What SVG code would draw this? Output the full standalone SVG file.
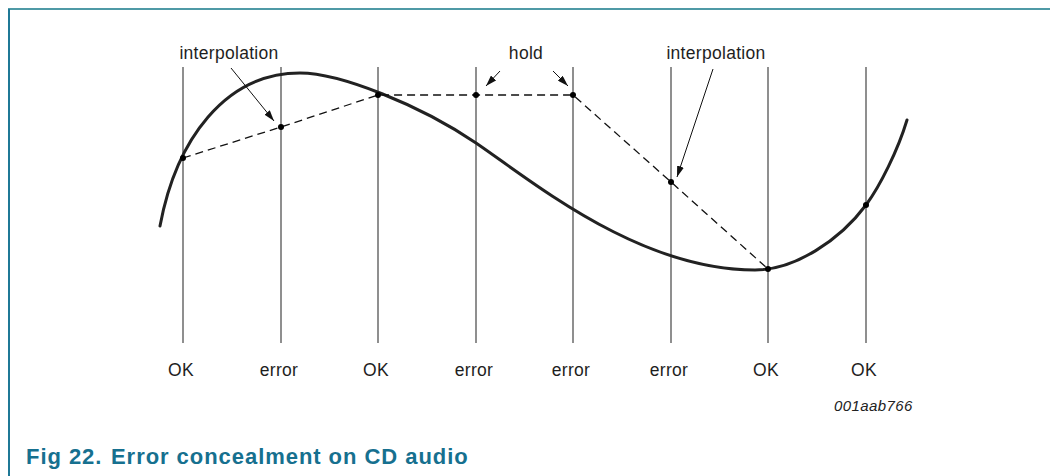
<svg xmlns="http://www.w3.org/2000/svg" width="1050" height="476" viewBox="0 0 1050 476">
<defs>
<marker id="ah" viewBox="0 0 11 7" refX="11" refY="3.5" markerWidth="11" markerHeight="7" markerUnits="userSpaceOnUse" orient="auto">
<path d="M0,0 L11,3.5 L0,7 Z" fill="#111"/>
</marker>
</defs>
<style>
.lbl{font-family:"Liberation Sans",Arial,sans-serif;font-size:17.5px;letter-spacing:0.3px;fill:#1e1e1e;text-anchor:middle}
.grid{stroke:#333;stroke-width:1.1;fill:none}
.dash{stroke:#111;stroke-width:1.3;stroke-dasharray:8 5;fill:none}
.curve{stroke:#222;stroke-width:3;fill:none;stroke-linecap:round}
.dot{fill:#000}
.ptr{stroke:#111;stroke-width:1;fill:none;marker-end:url(#ah)}
.title{font-family:"Liberation Sans",Arial,sans-serif;font-weight:bold;font-size:22px;letter-spacing:0.95px;fill:#16708f}
</style>
<rect width="1050" height="476" fill="#fff"/>
<g id="frame">
<line x1="8" y1="9" x2="1050" y2="9" stroke="#4f9aa6" stroke-width="2"/>
<line x1="9" y1="9" x2="9" y2="476" stroke="#1f7896" stroke-width="2"/>
</g>
<g id="grid">
<line class="grid" x1="183" y1="67" x2="183" y2="343"/>
<line class="grid" x1="281" y1="67" x2="281" y2="343"/>
<line class="grid" x1="378" y1="67" x2="378" y2="343"/>
<line class="grid" x1="476" y1="67" x2="476" y2="343"/>
<line class="grid" x1="573" y1="67" x2="573" y2="343"/>
<line class="grid" x1="671" y1="67" x2="671" y2="343"/>
<line class="grid" x1="768" y1="67" x2="768" y2="343"/>
<line class="grid" x1="866" y1="67" x2="866" y2="343"/>
</g>
<g id="signal">
<path class="curve" d="M160,226 C176,140 225,73 300,73 C340,73 420,105 476,143 C536,184 640,270 755,270 C795,270 840,240 866,205 C880,186 898,150 907,120"/>
</g>
<g id="connectors">
<polyline class="dash" points="183,158 281,127 378,95 476,95 573,95 671,182 768,269"/>
<line class="ptr" x1="231" y1="68" x2="274" y2="121"/>
<line class="ptr" x1="500" y1="71" x2="486" y2="86"/>
<line class="ptr" x1="553" y1="71" x2="568" y2="86"/>
<line class="ptr" x1="713" y1="69" x2="677" y2="177"/>
</g>
<g id="samples">
<circle class="dot" cx="183" cy="158" r="3"/>
<circle class="dot" cx="281" cy="127" r="3"/>
<circle class="dot" cx="378" cy="95" r="3"/>
<circle class="dot" cx="476" cy="95" r="3"/>
<circle class="dot" cx="573" cy="95" r="3"/>
<circle class="dot" cx="671" cy="182" r="3"/>
<circle class="dot" cx="768" cy="269" r="3"/>
<circle class="dot" cx="866" cy="205" r="3"/>
</g>
<g id="annotations">
<text class="lbl" x="229" y="59">interpolation</text>
<text class="lbl" x="526" y="59">hold</text>
<text class="lbl" x="716" y="59">interpolation</text>
</g>
<g id="labels">
<text class="lbl" x="181" y="376">OK</text>
<text class="lbl" x="279" y="376">error</text>
<text class="lbl" x="376" y="376">OK</text>
<text class="lbl" x="474" y="376">error</text>
<text class="lbl" x="571" y="376">error</text>
<text class="lbl" x="669" y="376">error</text>
<text class="lbl" x="766" y="376">OK</text>
<text class="lbl" x="864" y="376">OK</text>
</g>
<text x="834" y="411" font-family="Liberation Sans, Arial, sans-serif" font-style="italic" font-size="15" letter-spacing="0.4" fill="#222">001aab766</text>
<g id="caption">
<text class="title" x="26" y="464">Fig 22.</text>
<text class="title" x="111" y="464">Error concealment on CD audio</text>
</g>
</svg>
